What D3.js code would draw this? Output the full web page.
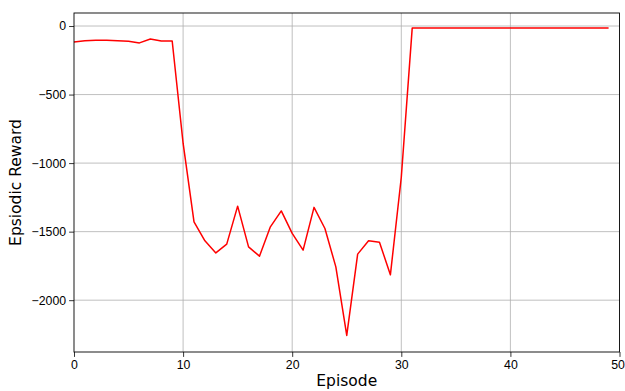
<!DOCTYPE html>
<html>
<head>
<meta charset="utf-8">
<script src="https://cdn.jsdelivr.net/npm/d3@7"></script>
<style>
  body { margin: 0; background: #fff; }
  svg { display: block; font-family: "DejaVu Sans", sans-serif; }
  .tick text { font-size: 12.3px; fill: #000; }
  .grid line { stroke: #b0b0b0; stroke-width: 0.8; }
</style>
</head>
<body>
<script>
// episode rewards
const episodes = d3.range(0, 50)
const rewards = [
  -117, -107, -104, -104, -108, -111, -123, -95, -110, -109,
  -855, -1428, -1567, -1655, -1591, -1314, -1611, -1679, -1465, -1349,
  -1513, -1635, -1323, -1477, -1757, -2257, -1664, -1567, -1577, -1815,
  -1103, -15, -15, -14, -15, -15, -15, -15, -15, -15,
  -15, -15, -15, -15, -15, -15, -15, -15, -15, -15
]
const xTicks = [0, 10, 20, 30, 40, 50]
const yTicks = [0, -500, -1000, -1500, -2000]

const width = 625, height = 391
const margin = {top: 13, right: 5, bottom: 39, left: 74}

const svg = d3.select("body").append("svg")
  .attr("width", width)
  .attr("height", height)

const x = d3.scaleLinear().domain([0, 50]).range([margin.left, width - margin.right - 0.5])
const y = d3.scaleLinear().domain([-2378, 95]).range([height - margin.bottom, margin.top])

const fmt = d => d < 0 ? "\u2212" + Math.abs(d) : String(d)

// grid
svg.append("g").attr("class", "grid")
  .selectAll("line").data(xTicks.slice(1, -1)).join("line")
  .attr("x1", d => x(d)).attr("x2", d => x(d))
  .attr("y1", y.range()[1]).attr("y2", y.range()[0])
svg.append("g").attr("class", "grid")
  .selectAll("line").data(yTicks).join("line")
  .attr("x1", x.range()[0]).attr("x2", x.range()[1])
  .attr("y1", d => y(d)).attr("y2", d => y(d))

// line
const line = d3.line().x((d, i) => x(episodes[i])).y(d => y(d))
svg.append("path")
  .datum(rewards)
  .attr("fill", "none")
  .attr("stroke", "#ff0000")
  .attr("stroke-width", 1.5)
  .attr("stroke-linejoin", "round")
  .attr("d", line)

// frame
svg.append("rect")
  .attr("x", x.range()[0]).attr("y", y.range()[1])
  .attr("width", x.range()[1] - x.range()[0])
  .attr("height", y.range()[0] - y.range()[1])
  .attr("fill", "none").attr("stroke", "#000").attr("stroke-width", 0.9)

// axes
const xAxis = svg.append("g")
  .attr("transform", `translate(0,${y.range()[0]})`)
  .call(d3.axisBottom(x).tickValues(xTicks).tickSize(4.9).tickPadding(3))
const yAxis = svg.append("g")
  .attr("transform", `translate(${x.range()[0]},0)`)
  .call(d3.axisLeft(y).tickValues(yTicks).tickFormat(fmt).tickSize(4.9).tickPadding(3))
;[xAxis, yAxis].forEach(a => {
  a.select(".domain").remove()
  a.selectAll(".tick line").attr("stroke", "#000").attr("stroke-width", 0.8)
})
// keep the last x label inside the window
xAxis.selectAll(".tick text").filter(d => d === 50).attr("dx", -2)

// labels
svg.append("text")
  .attr("x", (x.range()[0] + x.range()[1]) / 2)
  .attr("y", height - 5)
  .attr("text-anchor", "middle")
  .style("font-size", "15.5px")
  .text("Episode")
svg.append("text")
  .attr("transform", `translate(21,${(y.range()[0] + y.range()[1]) / 2}) rotate(-90)`)
  .attr("text-anchor", "middle")
  .style("font-size", "15.5px")
  .text("Epsiodic Reward")
</script>
</body>
</html>
